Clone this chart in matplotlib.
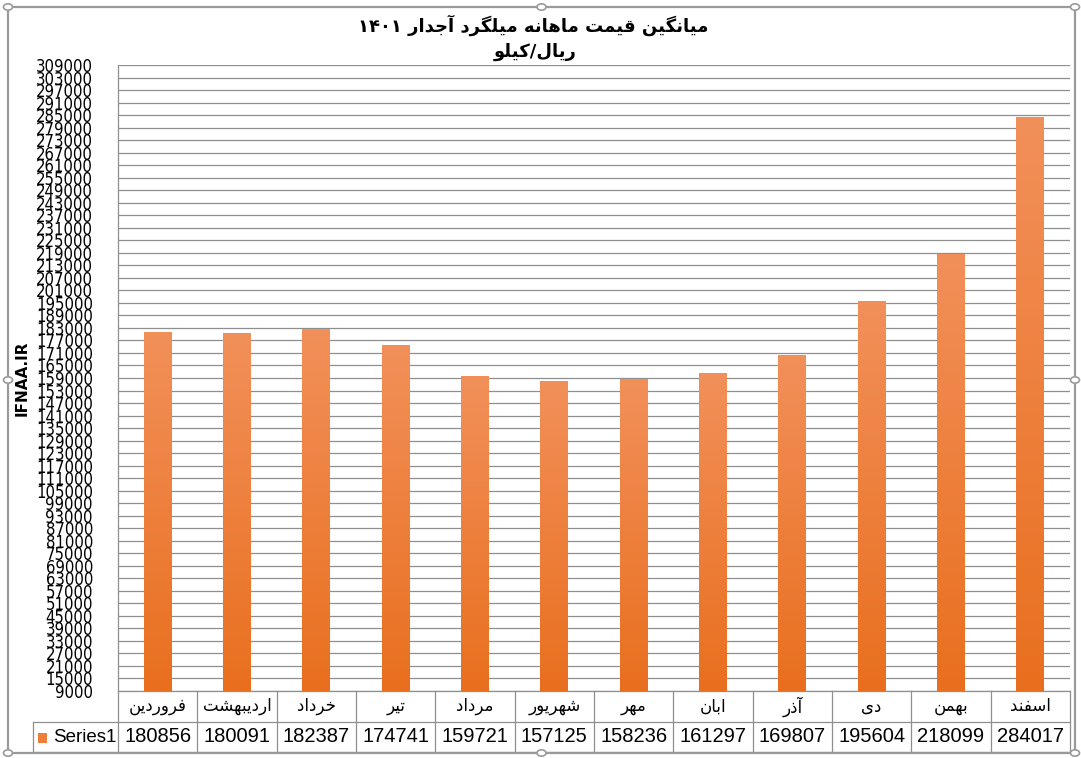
"""
Average monthly price of rebar (1401), Excel-style column chart with data table.
Writes out.png.
"""
import re

import matplotlib
matplotlib.use("Agg")
import matplotlib.pyplot as plt
import numpy as np
from matplotlib.patches import Rectangle, Circle
from matplotlib.transforms import blended_transform_factory

W, H, DPI = 1081, 758, 100

# ---- data ----
months = ["فروردین", "اردیبهشت", "خرداد", "تیر", "مرداد", "شهریور",
          "مهر", "ابان", "آذر", "دی", "بهمن", "اسفند"]
prices = [180856, 180091, 182387, 174741, 159721, 157125,
          158236, 161297, 169807, 195604, 218099, 284017]
series_name = "Series1"
title = "میانگین قیمت ماهانه میلگرد آجدار ۱۴۰۱"
subtitle = "ریال/کیلو"
ylabel = "IFNAA.IR"
y_min, y_max, y_step = 9000, 309000, 6000

# ---- minimal Persian shaping (matplotlib has no bidi/joining support) ----
FORMS = {  # isolated, final, initial, medial
    "ا": ("\uFE8D", "\uFE8E"), "آ": ("\uFE81", "\uFE82"),
    "د": ("\uFEA9", "\uFEAA"), "ذ": ("\uFEAB", "\uFEAC"),
    "ر": ("\uFEAD", "\uFEAE"), "و": ("\uFEED", "\uFEEE"),
    "ب": ("\uFE8F", "\uFE90", "\uFE91", "\uFE92"),
    "ت": ("\uFE95", "\uFE96", "\uFE97", "\uFE98"),
    "ج": ("\uFE9D", "\uFE9E", "\uFE9F", "\uFEA0"),
    "خ": ("\uFEA5", "\uFEA6", "\uFEA7", "\uFEA8"),
    "س": ("\uFEB1", "\uFEB2", "\uFEB3", "\uFEB4"),
    "ش": ("\uFEB5", "\uFEB6", "\uFEB7", "\uFEB8"),
    "ف": ("\uFED1", "\uFED2", "\uFED3", "\uFED4"),
    "ق": ("\uFED5", "\uFED6", "\uFED7", "\uFED8"),
    "ل": ("\uFEDD", "\uFEDE", "\uFEDF", "\uFEE0"),
    "م": ("\uFEE1", "\uFEE2", "\uFEE3", "\uFEE4"),
    "ن": ("\uFEE5", "\uFEE6", "\uFEE7", "\uFEE8"),
    "ه": ("\uFEE9", "\uFEEA", "\uFEEB", "\uFEEC"),
    "ی": ("\uFBFC", "\uFBFD", "\uFBFE", "\uFBFF"),
    "ک": ("\uFB8E", "\uFB8F", "\uFB90", "\uFB91"),
    "گ": ("\uFB92", "\uFB93", "\uFB94", "\uFB95"),
}


def fa(text):
    out = []
    for i, ch in enumerate(text):
        f = FORMS.get(ch)
        if f is None:
            out.append(ch)
            continue
        prev = text[i - 1] if i > 0 else ""
        nxt = text[i + 1] if i + 1 < len(text) else ""
        joins_prev = len(FORMS.get(prev, ())) == 4
        joins_next = len(f) == 4 and nxt in FORMS
        if joins_prev and joins_next:
            out.append(f[3])
        elif joins_prev:
            out.append(f[1])
        elif joins_next:
            out.append(f[2])
        else:
            out.append(f[0])
    vis = "".join(out)[::-1]
    # digit runs keep left-to-right order
    return re.sub(r"[0-9\u06F0-\u06F9]+", lambda m: m.group(0)[::-1], vis)


FA_FONT = "DejaVu Sans"
NUM_FONT = ["Liberation Sans", "DejaVu Sans"]

fig = plt.figure(figsize=(W / DPI, H / DPI), dpi=DPI)

# plot area in pixels: x 118..1070, y 65..691 (from top)
px_l, px_r, px_t, px_b = 118, 1070, 65, 691
ax = fig.add_axes([px_l / W, 1 - px_b / H, (px_r - px_l) / W, (px_b - px_t) / H])

x = np.arange(len(months))
bar_w = 0.35
grad = np.linspace(0, 1, 256).reshape(-1, 1)
cmap = matplotlib.colors.LinearSegmentedColormap.from_list("bar", ["#E96F1E", "#F2905A"])
for xi, v in zip(x, prices):
    ax.imshow(grad, cmap=cmap, origin="lower", aspect="auto", zorder=3,
              extent=[xi - bar_w / 2, xi + bar_w / 2, y_min, v], interpolation="bicubic")

ax.set_xlim(-0.5, len(months) - 0.5)
ax.set_ylim(y_min, y_max)
ax.set_yticks(np.arange(y_min, y_max + 1, y_step))
ax.set_yticklabels([str(t) for t in range(y_min, y_max + 1, y_step)],
                   family="DejaVu Sans", stretch="condensed", fontsize=12)
ax.tick_params(axis="y", length=0, pad=18)
ax.set_xticks([])
ax.grid(axis="y", color="#8f8f8f", linewidth=0.9, zorder=0)
ax.set_axisbelow(True)
for s in ["top", "right", "bottom"]:
    ax.spines[s].set_visible(False)
ax.spines["left"].set_color("#8f8f8f")
ax.spines["left"].set_linewidth(0.9)

# ---- data table under the plot ----
tr = blended_transform_factory(ax.transData, ax.transAxes)
row = 30.5 / (px_b - px_t)
leg_left = -0.5 - (px_l - 33) / ((px_r - px_l) / len(months))
lc, lw = "#8f8f8f", 0.9
n = len(months)
ax.plot([-0.5, n - 0.5], [0, 0], transform=tr, color=lc, lw=lw, clip_on=False)
for yy in (-row, -2 * row):
    ax.plot([leg_left, n - 0.5], [yy, yy], transform=tr, color=lc, lw=lw, clip_on=False)
for i in range(n + 1):
    ax.plot([i - 0.5, i - 0.5], [0, -2 * row], transform=tr, color=lc, lw=lw, clip_on=False)
ax.plot([leg_left, leg_left], [-row, -2 * row], transform=tr, color=lc, lw=lw, clip_on=False)

for xi, m, v in zip(x, months, prices):
    ax.text(xi, -row * 0.5, fa(m), transform=tr, ha="center", va="center",
            family=FA_FONT, fontsize=12)
    ax.text(xi, -row * 1.5, str(v), transform=tr, ha="center", va="center",
            family=NUM_FONT, fontsize=14.5)

fig.patches.append(Rectangle((38 / W, 1 - 743 / H), 9 / W, 10 / H, transform=fig.transFigure,
                             facecolor="#EE7F3A", edgecolor="none"))
fig.text(53 / W, 1 - 737.5 / H, series_name, ha="left", va="center",
         family=NUM_FONT, fontsize=13.5)

# ---- titles and axis label ----
fig.text(533 / W, 1 - 25 / H, fa(title), ha="center", va="center",
         family=FA_FONT, fontweight="bold", fontsize=13)
fig.text(535 / W, 1 - 52 / H, fa(subtitle), ha="center", va="center",
         family=FA_FONT, fontweight="bold", fontsize=13)
fig.text(22 / W, 1 - 378 / H, ylabel, rotation=90, ha="center", va="center",
         family="DejaVu Sans", fontweight="bold", fontsize=11)

# ---- chart frame with selection handles ----
fx0, fx1, fy0, fy1 = 8, 1075, 7, 753
fig.patches.append(Rectangle((fx0 / W, 1 - fy1 / H), (fx1 - fx0) / W, (fy1 - fy0) / H,
                             transform=fig.transFigure, fill=False, edgecolor="#9a9a9a", lw=1.6))
for hx in (fx0, (fx0 + fx1) / 2, fx1):
    for hy in (fy0, (fy0 + fy1) / 2, fy1):
        if hx == (fx0 + fx1) / 2 and hy == (fy0 + fy1) / 2:
            continue
        fig.patches.append(Circle((hx / W, 1 - hy / H), 4.5 / W, transform=fig.transFigure,
                                  facecolor="white", edgecolor="#9a9a9a", lw=1.2, zorder=5))

fig.savefig("out.png", dpi=DPI)
